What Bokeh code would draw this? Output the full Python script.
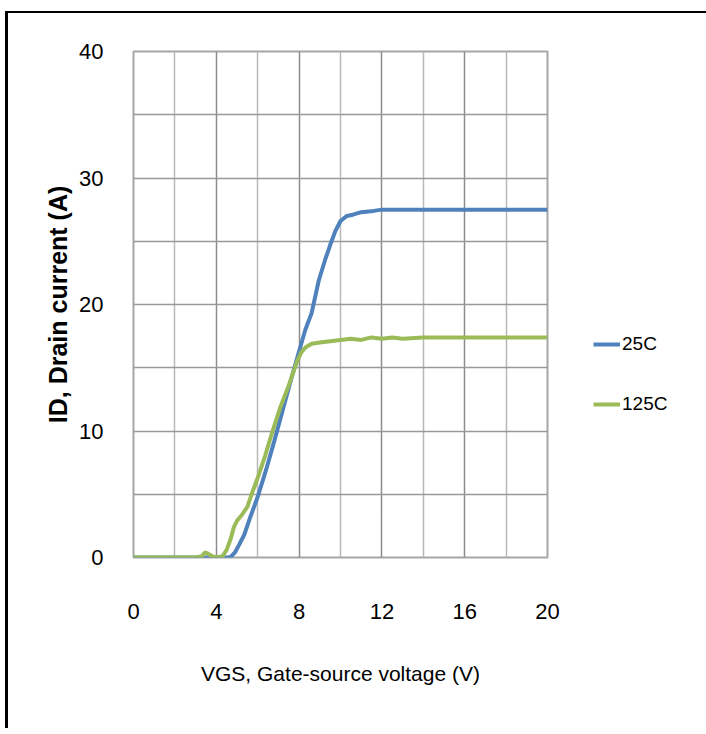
from bokeh.plotting import figure
from bokeh.models import Legend, FixedTicker
from bokeh.embed import file_html
from bokeh.resources import INLINE

# ---- data ----
vgs_25 = [0, 1, 2, 3, 4, 4.5, 4.7, 4.9, 5.1, 5.35, 5.6, 6.0, 6.4, 6.8, 7.2, 7.6, 8.0,
          8.3, 8.6, 8.95, 9.25, 9.5, 9.75, 10.0, 10.3, 10.6, 11.0, 11.6, 12, 14, 16, 18, 20]
id_25 = [0, 0, 0, 0, 0, 0, 0.05, 0.4, 1.0, 1.8, 3.0, 4.8, 6.9, 9.2, 11.6, 14.0, 16.3,
         18.0, 19.3, 21.9, 23.5, 24.7, 25.8, 26.6, 27.0, 27.1, 27.3, 27.4, 27.5, 27.5, 27.5, 27.5, 27.5]

vgs_125 = [0, 1, 2, 3, 3.3, 3.45, 3.6, 3.8, 4.0, 4.3, 4.5, 4.7, 4.85, 5.0, 5.25, 5.5, 5.75,
           6.0, 6.35, 6.7, 7.1, 7.5, 7.9, 8.1, 8.3, 8.6, 9.0, 9.5, 10, 10.5, 11, 11.5, 12,
           12.5, 13, 14, 15, 16, 18, 20]
id_125 = [0, 0, 0, 0, 0.1, 0.4, 0.3, 0.1, 0, 0.1, 0.6, 1.5, 2.4, 2.9, 3.4, 4.0, 5.2,
          6.3, 8.0, 9.9, 11.9, 13.6, 15.5, 16.2, 16.6, 16.9, 17.0, 17.1, 17.2, 17.3, 17.2, 17.4, 17.3,
          17.4, 17.3, 17.4, 17.4, 17.4, 17.4, 17.4]

x_ticks = [0, 4, 8, 12, 16, 20]
x_minor = [2, 6, 10, 14, 18]
y_ticks = [0, 10, 20, 30, 40]
y_minor = [5, 15, 25, 35]
series_names = ["25C", "125C"]

FONT = "'Liberation Sans', sans-serif"

p = figure(frame_width=414, frame_height=506, x_range=(0, 20), y_range=(0, 40),
           output_backend="svg", toolbar_location=None,
           min_border_left=125, min_border_top=38, min_border_right=151, min_border_bottom=171,
           background_fill_color="white", border_fill_color="white")
p.styles = {"border-left": "3px solid black", "border-top": "2px solid black",
            "margin-left": "5px", "margin-top": "11px"}

p.outline_line_color = "#a6a6a6"
p.outline_line_width = 2

p.xaxis.ticker = FixedTicker(ticks=x_ticks, minor_ticks=x_minor)
p.yaxis.ticker = FixedTicker(ticks=y_ticks, minor_ticks=y_minor)
for ax in (p.xaxis, p.yaxis):
    ax.axis_line_color = None
    ax.major_tick_line_color = None
    ax.minor_tick_line_color = None
    ax.major_label_text_font = FONT
    ax.major_label_text_font_size = "22px"
    ax.major_label_text_color = "black"
    ax.axis_label_text_color = "black"

p.xaxis.major_label_standoff = 40
p.yaxis.major_label_standoff = 24
p.xaxis.axis_label = "VGS, Gate-source voltage (V)"
p.xaxis.axis_label_text_font = FONT
p.xaxis.axis_label_text_font_size = "21px"
p.xaxis.axis_label_text_font_style = "normal"
p.xaxis.axis_label_standoff = 40
p.yaxis.axis_label = "ID, Drain current (A)"
p.yaxis.axis_label_text_font = FONT
p.yaxis.axis_label_text_font_size = "25px"
p.yaxis.axis_label_text_font_style = "bold"
p.yaxis.axis_label_standoff = 4

p.xgrid.grid_line_color = "#8c8c8c"
p.xgrid.grid_line_width = 1.5
p.xgrid.minor_grid_line_color = "#b8b8b8"
p.xgrid.minor_grid_line_width = 1.5
p.ygrid.grid_line_color = "#999999"
p.ygrid.grid_line_width = 1.5
p.ygrid.minor_grid_line_color = "#999999"
p.ygrid.minor_grid_line_width = 1.5

r1 = p.line(vgs_25, id_25, line_color="#4F81BD", line_width=4)
r2 = p.line(vgs_125, id_125, line_color="#9BBB59", line_width=4)

legend = Legend(items=[(series_names[0], [r1]), (series_names[1], [r2])], location=(46, 142))
legend.glyph_width = 27
legend.glyph_height = 20
legend.label_height = 20
legend.spacing = 38
legend.padding = 0
legend.margin = 0
legend.label_standoff = 2
legend.border_line_color = None
legend.background_fill_alpha = 0
legend.label_text_font = FONT
legend.label_text_font_size = "19px"
legend.label_text_color = "black"
p.add_layout(legend, "right")

open("out.html", "w").write(file_html(p, INLINE))
